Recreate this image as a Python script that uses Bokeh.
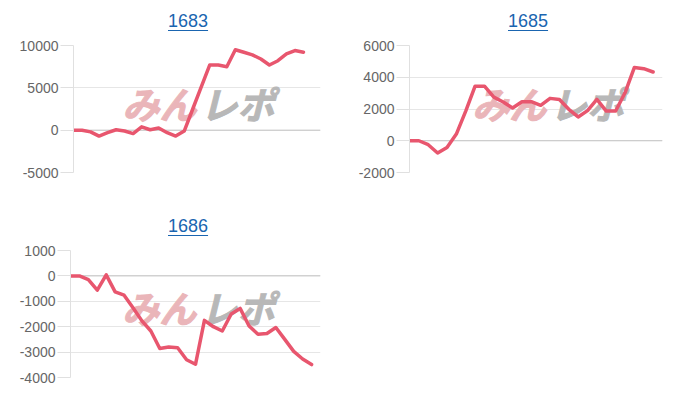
from bokeh.plotting import figure
from bokeh.models import Range1d, FixedTicker, Span, Label, Div, PrintfTickFormatter
from bokeh.layouts import column, row
from bokeh.embed import file_html
from bokeh.resources import INLINE

# ---- data ----
title1 = "1683"
n_labels1 = 30
vals1 = [0, 0, -200, -700, -300, 50, -100, -400, 400, 50, 250, -300, -700, -100,
         2500, 5100, 7700, 7700, 7500, 9500, 9200, 8900, 8400, 7700, 8200, 9000, 9400, 9200]
ticks1 = [-5000, 0, 5000, 10000]

title2 = "1685"
n_labels2 = 28
vals2 = [0, 0, -250, -770, -420, 420, 1870, 3440, 3440, 2750, 2440, 2060, 2460, 2460,
         2230, 2670, 2600, 1980, 1500, 1900, 2600, 1870, 1870, 3020, 4620, 4540, 4330]
ticks2 = [-2000, 0, 2000, 4000, 6000]

title3 = "1686"
n_labels3 = 29
vals3 = [0, 0, -150, -560, 40, -630, -760, -1250, -1770, -2170, -2860, -2800, -2830, -3300,
         -3480, -1750, -2000, -2170, -1500, -1280, -1970, -2300, -2270, -2030, -2500, -2970,
         -3270, -3490]
ticks3 = [-4000, -3000, -2000, -1000, 0, 1000]

LINE = "#e8566e"
FONT = "Liberation Sans"


def make_title(text, pad_left, width):
    html = (f'<div style="padding-top:3px;padding-left:{pad_left}px;'
            f'font-family:\'{FONT}\',Arial,sans-serif;font-size:18px;line-height:20px;">'
            f'<a href="#" style="color:#1a65b0;text-decoration:underline;'
            f'text-underline-offset:3px;">{text}</a></div>')
    return Div(text=html, width=width, height=27, margin=(0, 0, 0, 0))


def make_chart(vals, n_labels, ticks, width, height, bl, br, bb, wm):
    p = figure(width=width, height=height, output_backend="svg", toolbar_location=None,
               x_axis_location=None, min_border_left=bl, min_border_right=br,
               min_border_top=10, min_border_bottom=bb)
    p.x_range = Range1d(0, n_labels - 1)
    p.y_range = Range1d(ticks[0], ticks[-1])
    p.outline_line_color = None
    p.background_fill_color = "white"
    p.xgrid.visible = False
    p.ygrid.ticker = FixedTicker(ticks=ticks)
    p.ygrid.grid_line_color = "#e6e6e6"
    ax = p.yaxis[0]
    ax.ticker = FixedTicker(ticks=ticks)
    ax.formatter = PrintfTickFormatter(format="%d")
    ax.axis_line_color = "#e0e0e0"
    ax.major_tick_line_color = "#e0e0e0"
    ax.major_tick_out = 13
    ax.major_tick_in = 0
    ax.minor_tick_line_color = None
    ax.major_label_standoff = 2
    ax.major_label_text_font = FONT
    ax.major_label_text_font_size = "14px"
    ax.major_label_text_color = "#666666"
    p.add_layout(Span(location=0, dimension="width", line_color="#c4c4c4",
                      line_width=1, level="underlay"))
    # watermark (decoration)
    (x_a, x_b, y_w) = wm
    for txt, xx, col in (("みん", x_a, "#eab5b9"), ("レポ", x_b, "#b8b8b8")):
        p.add_layout(Label(x=xx, y=y_w, text=txt, text_font="Noto Sans CJK JP",
                           text_font_size="37px", text_font_style="bold italic",
                           text_color=col, text_baseline="middle",
                           text_outline_color=col, level="underlay"))
    xs = list(range(len(vals)))
    p.line(xs, vals, line_color=LINE, line_width=3.5, line_join="round", line_cap="round")
    return p


p1 = make_chart(vals1, n_labels1, ticks1, 335, 178, 65, 23, 41, (5.75, 14.9, 3150))
p2 = make_chart(vals2, n_labels2, ticks2, 329, 178, 66, 10, 41, (6.7, 15.0, 2400))
p3 = make_chart(vals3, n_labels3, ticks3, 327, 147, 62, 15, 10, (5.8, 14.6, -1205))

d1 = make_title(title1, 160, 335)
d2 = make_title(title2, 165, 329)
d3 = make_title(title3, 160, 327)

layout = column(row(column(d1, p1), column(d2, p2)), column(d3, p3), margin=(8, 0, 0, 8))

open("out.html", "w").write(file_html(layout, INLINE))
